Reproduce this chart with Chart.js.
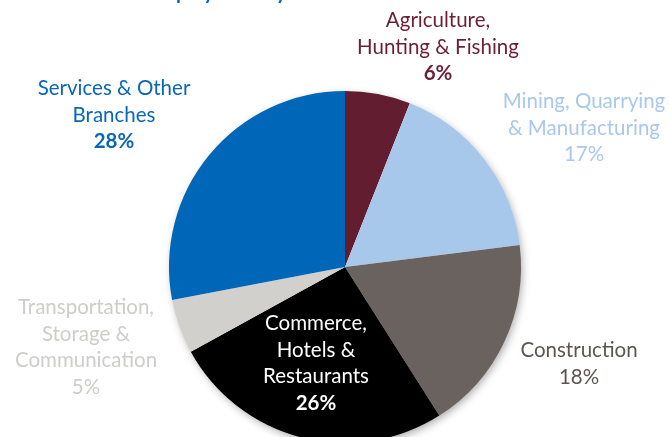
<!DOCTYPE html>
<html>
<head>
<meta charset="utf-8">
<script src="https://cdn.jsdelivr.net/npm/chart.js@4.4.1/dist/chart.umd.min.js"></script>
<style>
  html, body { margin: 0; padding: 0; background: #fff; overflow: hidden; }
  #wrap { position: relative; width: 670px; height: 460px; }
</style>
</head>
<body>
<div id="wrap"><canvas id="sectorPie"></canvas></div>
<script>
"use strict";

// employment share by branch, clockwise from 12 o'clock
var sectorNames = [
  "Agriculture, Hunting & Fishing",
  "Mining, Quarrying & Manufacturing",
  "Construction",
  "Commerce, Hotels & Restaurants",
  "Transportation, Storage & Communication",
  "Services & Other Branches",
];
var sectorShares = [6, 17, 18, 26, 5, 28];
var sectorColors = ["#631d30", "#a7c7eb", "#6a625f", "#000000", "#d2d0cc", "#0066b8"];

// how each label is broken into lines (last line is the share)
var labelLines = [
  ["Agriculture,", "Hunting & Fishing"],
  ["Mining, Quarrying", "& Manufacturing"],
  ["Construction"],
  ["Commerce,", "Hotels &", "Restaurants"],
  ["Transportation,", "Storage &", "Communication"],
  ["Services & Other", "Branches"],
];
var labelColors = ["#6b1f35", "#a9c8ec", "#5c5552", "#ffffff", "#cdcdcb", "#0a67b8"];
// label block anchors (centre x, first baseline y)
var labelSpots = [
  [438, 27],
  [584, 108],
  [579, 357],
  [316, 330],
  [86, 314],
  [114, 95],
];
var labelFont = "20.5px Lato, 'Open Sans', sans-serif";

var pieShadow = {
  id: "pieShadow",
  beforeDatasetsDraw: function (chart) {
    var arc = chart.getDatasetMeta(0).data[0];
    var ctx = chart.ctx;
    ctx.save();
    ctx.shadowColor = "rgba(0,0,0,0.35)";
    ctx.shadowBlur = 9;
    ctx.shadowOffsetX = 2;
    ctx.shadowOffsetY = 3;
    ctx.fillStyle = "#ffffff";
    ctx.beginPath();
    ctx.arc(arc.x, arc.y, arc.outerRadius - 1, 0, Math.PI * 2);
    ctx.fill();
    ctx.restore();
  },
};

var sliceLabels = {
  id: "sliceLabels",
  afterDatasetsDraw: function (chart) {
    var ctx = chart.ctx;
    ctx.save();
    ctx.textAlign = "center";
    ctx.textBaseline = "alphabetic";
    labelLines.forEach(function (lines, idx) {
      var x = labelSpots[idx][0];
      var y = labelSpots[idx][1];
      var all = lines.concat([sectorShares[idx] + "%"]);
      ctx.fillStyle = labelColors[idx];
      all.forEach(function (txt, j) {
        ctx.font = (j === all.length - 1 && (idx === 0 || idx === 3 || idx === 5) ? "bold " : "") + labelFont;
        ctx.fillText(txt, x, y + j * 26.5);
      });
    });

    // chart heading, mostly above the visible area
    ctx.textAlign = "left";
    ctx.fillStyle = "#0a67b8";
    ctx.font = "bold 20px Lato, 'Open Sans', sans-serif";
    ctx.fillText("Employment by Sector", 148, -1);
    ctx.restore();
  },
};

new Chart(document.getElementById("sectorPie"), {
  type: "pie",
  data: {
    labels: sectorNames,
    datasets: [
      {
        data: sectorShares,
        backgroundColor: sectorColors,
        borderWidth: 0,
      },
    ],
  },
  options: {
    responsive: true,
    maintainAspectRatio: false,
    animation: false,
    layout: {
      padding: { top: 91, bottom: 17, left: 169, right: 149 },
    },
    plugins: {
      legend: { display: false },
      tooltip: { enabled: false },
    },
  },
  plugins: [pieShadow, sliceLabels],
});
</script>
</body>
</html>
